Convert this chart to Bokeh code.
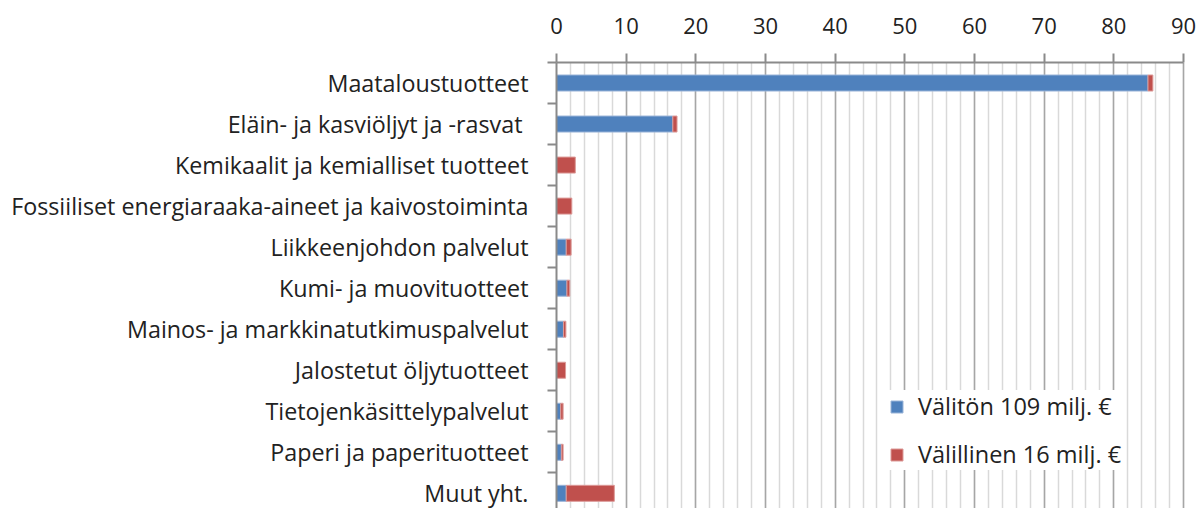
from bokeh.plotting import figure
from bokeh.models import Range1d, FixedTicker, SingleIntervalTicker, Legend, LegendItem, ColumnDataSource
from bokeh.embed import file_html
from bokeh.resources import INLINE

categories = [
    "Maataloustuotteet",
    "Eläin- ja kasviöljyt ja -rasvat ",
    "Kemikaalit ja kemialliset tuotteet",
    "Fossiiliset energiaraaka-aineet ja kaivostoiminta",
    "Liikkeenjohdon palvelut",
    "Kumi- ja muovituotteet",
    "Mainos- ja markkinatutkimuspalvelut",
    "Jalostetut öljytuotteet",
    "Tietojenkäsittelypalvelut",
    "Paperi ja paperituotteet",
    "Muut yht.",
]
direct = [84.9, 16.7, 0.0, 0.0, 1.4, 1.5, 1.0, 0.0, 0.6, 0.7, 1.4]
indirect = [0.7, 0.6, 2.7, 2.2, 0.7, 0.4, 0.35, 1.3, 0.35, 0.25, 6.9]
series_names = ["Välitön 109 milj. €", "Välillinen 16 milj. €"]
x_ticks_max = 90

FONT = "Open Sans"
TXT = "#222222"
AX = "#8a8a8a"

pos = [i + 0.5 for i in range(len(categories))]
src = ColumnDataSource(dict(
    y=pos,
    d0=[0] * len(direct),
    d1=direct,
    i0=direct,
    i1=[a + b for a, b in zip(direct, indirect)],
))

p = figure(width=1198, height=508, output_backend="svg", toolbar_location=None,
           x_axis_location="above",
           x_range=Range1d(0, 91), y_range=Range1d(10.87, 0),
           min_border_left=556, min_border_top=62, min_border_right=8, min_border_bottom=0)
p.outline_line_color = None
p.background_fill_color = "white"

rb = p.hbar(y="y", left="d0", right="d1", height=0.39, source=src,
            fill_color="#4F81BD", line_color="#9ab4d8", line_width=1)
rr = p.hbar(y="y", left="i0", right="i1", height=0.39, source=src,
            fill_color="#C0504D", line_color="#dc9a98", line_width=1)

# x axis (top)
xa = p.xaxis[0]
xa.ticker = SingleIntervalTicker(interval=10, num_minor_ticks=5)
xa.bounds = (0, x_ticks_max)
xa.axis_line_color = AX
xa.axis_line_width = 2
xa.major_tick_line_color = AX
xa.major_tick_line_width = 2
xa.major_tick_out = 9
xa.major_tick_in = 0
xa.minor_tick_line_color = None
xa.major_label_text_font = FONT
xa.major_label_text_font_size = "22px"
xa.major_label_text_color = TXT
xa.major_label_standoff = 20

# y axis (left)
ya = p.yaxis[0]
ya.ticker = FixedTicker(ticks=pos, minor_ticks=list(range(len(categories) + 1)))
ya.major_label_overrides = {v: c for v, c in zip(pos, categories)}
ya.axis_line_color = AX
ya.axis_line_width = 2
ya.major_tick_line_color = None
ya.major_tick_out = 0
ya.major_tick_in = 0
ya.minor_tick_line_color = AX
ya.minor_tick_line_width = 2
ya.minor_tick_out = 9
ya.minor_tick_in = 0
ya.major_label_text_font = FONT
ya.major_label_text_font_size = "23.3px"
ya.major_label_text_color = TXT
ya.major_label_standoff = 19

p.ygrid.grid_line_color = None
p.xgrid.grid_line_color = "#a6a6a6"
p.xgrid.grid_line_width = 1.5
p.xgrid.minor_grid_line_color = "#d9d9d9"
p.xgrid.minor_grid_line_width = 1.5

legend = Legend(items=[LegendItem(label=series_names[0], renderers=[rb]),
                       LegendItem(label=series_names[1], renderers=[rr])],
                location=(333, 38), orientation="vertical")
legend.background_fill_color = "white"
legend.background_fill_alpha = 1
legend.border_line_color = None
legend.padding = 12
legend.margin = 0
legend.spacing = 16
legend.glyph_width = 15
legend.glyph_height = 15
legend.label_height = 24
legend.label_standoff = 14
legend.label_text_font = FONT
legend.label_text_font_size = "23.5px"
legend.label_text_color = TXT
p.add_layout(legend, "center")

open("out.html", "w").write(file_html(p, INLINE))
